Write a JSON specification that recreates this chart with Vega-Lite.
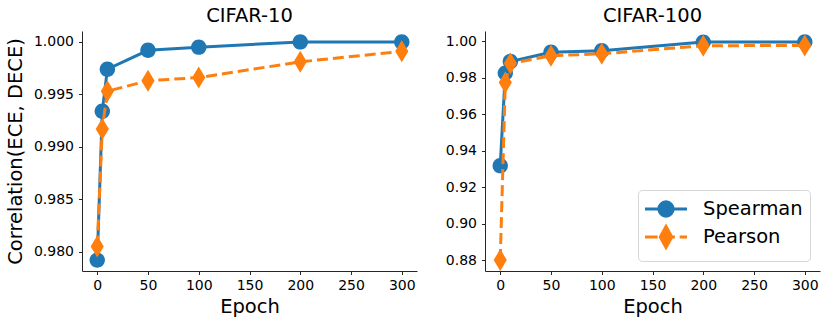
{
  "$schema": "https://vega.github.io/schema/vega-lite/v6.json",
  "padding": {"left": 5, "top": 5, "right": 5, "bottom": 5},
  "background": "white",
  "config": {
    "font": "DejaVu Sans",
    "view": {"stroke": null},
    "axis": {"grid": false, "domainColor": "#262626", "tickColor": "#262626", "tickSize": 3.5, "domainWidth": 1, "tickWidth": 1,
      "labelFontSize": 14, "labelColor": "#000", "titleFontSize": 19.5, "titleFontWeight": "normal", "titleColor": "#000",
      "labelFont": "DejaVu Sans", "titleFont": "DejaVu Sans"},
    "axisX": {"labelPadding": 4, "titlePadding": 5},
    "axisY": {"labelPadding": 5, "titlePadding": 8},
    "title": {"fontSize": 19.5, "fontWeight": "normal", "font": "DejaVu Sans", "color": "#000", "offset": 5}
  },
  "datasets": {
    "d": [
      {"dataset": "CIFAR-10", "method": "Spearman", "epoch": 0, "value": 0.9792},
      {"dataset": "CIFAR-10", "method": "Spearman", "epoch": 5, "value": 0.9934},
      {"dataset": "CIFAR-10", "method": "Spearman", "epoch": 10, "value": 0.9974},
      {"dataset": "CIFAR-10", "method": "Spearman", "epoch": 50, "value": 0.9992},
      {"dataset": "CIFAR-10", "method": "Spearman", "epoch": 100, "value": 0.9995},
      {"dataset": "CIFAR-10", "method": "Spearman", "epoch": 200, "value": 1.0},
      {"dataset": "CIFAR-10", "method": "Spearman", "epoch": 300, "value": 1.0},
      {"dataset": "CIFAR-10", "method": "Pearson", "epoch": 0, "value": 0.9805},
      {"dataset": "CIFAR-10", "method": "Pearson", "epoch": 5, "value": 0.9917},
      {"dataset": "CIFAR-10", "method": "Pearson", "epoch": 10, "value": 0.9953},
      {"dataset": "CIFAR-10", "method": "Pearson", "epoch": 50, "value": 0.9963},
      {"dataset": "CIFAR-10", "method": "Pearson", "epoch": 100, "value": 0.9966},
      {"dataset": "CIFAR-10", "method": "Pearson", "epoch": 200, "value": 0.9981},
      {"dataset": "CIFAR-10", "method": "Pearson", "epoch": 300, "value": 0.9991},
      {"dataset": "CIFAR-100", "method": "Spearman", "epoch": 0, "value": 0.9318},
      {"dataset": "CIFAR-100", "method": "Spearman", "epoch": 5, "value": 0.9826},
      {"dataset": "CIFAR-100", "method": "Spearman", "epoch": 10, "value": 0.989},
      {"dataset": "CIFAR-100", "method": "Spearman", "epoch": 50, "value": 0.994},
      {"dataset": "CIFAR-100", "method": "Spearman", "epoch": 100, "value": 0.9949},
      {"dataset": "CIFAR-100", "method": "Spearman", "epoch": 200, "value": 0.9996},
      {"dataset": "CIFAR-100", "method": "Spearman", "epoch": 300, "value": 0.9997},
      {"dataset": "CIFAR-100", "method": "Pearson", "epoch": 0, "value": 0.88},
      {"dataset": "CIFAR-100", "method": "Pearson", "epoch": 5, "value": 0.9775},
      {"dataset": "CIFAR-100", "method": "Pearson", "epoch": 10, "value": 0.9879},
      {"dataset": "CIFAR-100", "method": "Pearson", "epoch": 50, "value": 0.9921},
      {"dataset": "CIFAR-100", "method": "Pearson", "epoch": 100, "value": 0.9932},
      {"dataset": "CIFAR-100", "method": "Pearson", "epoch": 200, "value": 0.9976},
      {"dataset": "CIFAR-100", "method": "Pearson", "epoch": 300, "value": 0.9978}
    ]
  },
  "bounds": "flush",
  "spacing": 68,
  "resolve": {"scale": {"color": "independent"}, "legend": {"color": "independent"}},
  "hconcat": [
    {
      "width": 335, "height": 240,
      "title": "CIFAR-10",
      "data": {"name": "d"},
      "transform": [{"filter": "datum.dataset === 'CIFAR-10'"}],
      "encoding": {
        "x": {"field": "epoch", "type": "quantitative", "scale": {"domain": [-15, 315], "nice": false, "zero": false}, "axis": {"values": [0, 50, 100, 150, 200, 250, 300], "title": "Epoch"}},
        "y": {"field": "value", "type": "quantitative", "scale": {"domain": [0.97816, 1.00104], "nice": false, "zero": false}, "axis": {"values": [0.98, 0.985, 0.99, 0.995, 1.0], "format": ".3f", "title": "Correlation(ECE, DECE)"}},
        "color": {"field": "method", "type": "nominal", "scale": {"domain": ["Spearman", "Pearson"], "range": ["#1f77b4", "#ff7f0e"]}, "legend": null}
      },
      "layer": [
        {"transform": [{"filter": "datum.method === 'Spearman'"}], "mark": {"type": "line", "strokeWidth": 3}},
        {"transform": [{"filter": "datum.method === 'Spearman'"}], "mark": {"type": "point", "filled": true, "opacity": 1, "size": 484, "shape": "M-0.7,0A0.7,0.7,0,1,0,0.7,0A0.7,0.7,0,1,0,-0.7,0Z"}},
        {"transform": [{"filter": "datum.method === 'Pearson'"}], "mark": {"type": "line", "strokeWidth": 3, "strokeDash": [11, 5]}},
        {"transform": [{"filter": "datum.method === 'Pearson'"}], "mark": {"type": "point", "filled": true, "opacity": 1, "size": 484, "shape": "M0,-1L0.6,0L0,1L-0.6,0Z"}}
      ]
    },
    {
      "width": 335, "height": 240,
      "title": "CIFAR-100",
      "data": {"name": "d"},
      "transform": [{"filter": "datum.dataset === 'CIFAR-100'"}],
      "encoding": {
        "x": {"field": "epoch", "type": "quantitative", "scale": {"domain": [-15, 315], "nice": false, "zero": false}, "axis": {"values": [0, 50, 100, 150, 200, 250, 300], "title": "Epoch"}},
        "y": {"field": "value", "type": "quantitative", "scale": {"domain": [0.874, 1.0057], "nice": false, "zero": false}, "axis": {"values": [0.88, 0.9, 0.92, 0.94, 0.96, 0.98, 1.0], "format": ".2f", "title": null}},
        "color": {"field": "method", "type": "nominal", "scale": {"domain": ["Spearman", "Pearson"], "range": ["#1f77b4", "#ff7f0e"]},
          "legend": {"title": null, "orient": "bottom-right", "offset": 10, "padding": 7, "fillColor": "rgba(255,255,255,0.85)", "strokeColor": "#d6d6d6", "cornerRadius": 4,
            "labelFont": "DejaVu Sans", "labelFontSize": 19.5, "labelColor": "#000", "symbolSize": 441, "symbolStrokeWidth": 3, "symbolOffset": 9, "labelOffset": 25, "rowPadding": -3,
            "encode": {"symbols": {"update": {
              "shape": [{"test": "datum.value === 'Spearman'", "value": "M-2,0L2,0M-0.68,0A0.68,0.68,0,1,0,0.68,0A0.68,0.68,0,1,0,-0.68,0Z"}, {"value": "M-2,0L-0.8,0M0.45,0L0.85,0M1.3,0L2,0M0,-1L0.55,0L0,1L-0.55,0Z"}],
              "fill": [{"test": "datum.value === 'Spearman'", "value": "#1f77b4"}, {"value": "#ff7f0e"}],
              "stroke": [{"test": "datum.value === 'Spearman'", "value": "#1f77b4"}, {"value": "#ff7f0e"}],
              "strokeWidth": {"value": 3},
              "opacity": {"value": 1}
            }}}}}
      },
      "layer": [
        {"transform": [{"filter": "datum.method === 'Spearman'"}], "mark": {"type": "line", "strokeWidth": 3}},
        {"transform": [{"filter": "datum.method === 'Spearman'"}], "mark": {"type": "point", "filled": true, "opacity": 1, "size": 484, "shape": "M-0.7,0A0.7,0.7,0,1,0,0.7,0A0.7,0.7,0,1,0,-0.7,0Z"}},
        {"transform": [{"filter": "datum.method === 'Pearson'"}], "mark": {"type": "line", "strokeWidth": 3, "strokeDash": [11, 5]}},
        {"transform": [{"filter": "datum.method === 'Pearson'"}], "mark": {"type": "point", "filled": true, "opacity": 1, "size": 484, "shape": "M0,-1L0.6,0L0,1L-0.6,0Z"}}
      ]
    }
  ]
}
